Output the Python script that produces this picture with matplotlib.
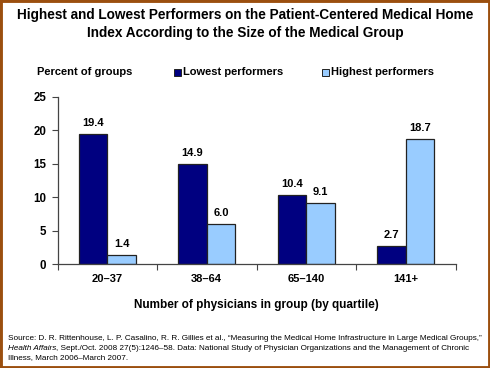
import numpy as np
import matplotlib
matplotlib.use("Agg")
import matplotlib.pyplot as plt
from matplotlib.patches import Rectangle

plt.rcParams['font.family'] = ['Liberation Sans', 'DejaVu Sans']

categories = ["20\u201337", "38\u201364", "65\u2013140", "141+"]
lowest = [19.4, 14.9, 10.4, 2.7]
highest = [1.4, 6.0, 9.1, 18.7]
yticks = [0, 5, 10, 15, 20, 25]

W, H = 490, 368
fig = plt.figure(figsize=(W / 100, H / 100), dpi=100)
fig.patch.set_facecolor("white")

# axes box in pixels: x 57.5..455.5, y(0)=264.3, y(25)=96.7
ax = fig.add_axes([57.5 / W, 1 - 264.3 / H, 398 / W, 167.6 / H])

x = np.arange(len(categories))
bw = 0.288
ax.bar(x - bw / 2, lowest, bw, color="#000080", edgecolor="#222222", linewidth=0.9)
ax.bar(x + bw / 2, highest, bw, color="#99CCFF", edgecolor="#222222", linewidth=0.9)

for i in range(len(categories)):
    ax.text(x[i] - bw / 2, lowest[i] + 0.9, f"{lowest[i]:.1f}", ha="center", va="bottom",
            fontsize=8, fontweight="bold")
    ax.text(x[i] + bw / 2, highest[i] + 0.9, f"{highest[i]:.1f}", ha="center", va="bottom",
            fontsize=8, fontweight="bold")

ax.set_xlim(-0.5, len(categories) - 0.5)
ax.set_ylim(0, 25)
ax.set_yticks(yticks)
ax.set_yticklabels([str(t) for t in yticks], fontsize=8.3, fontweight="bold")
ax.set_xticks(np.arange(-0.5, len(categories), 1.0))
ax.set_xticklabels([])
ax.set_xticks(x, minor=True)
ax.set_xticklabels(categories, minor=True, fontsize=8, fontweight="bold")
ax.tick_params(axis="x", which="minor", length=0, pad=7)
ax.tick_params(axis="x", which="major", length=4, width=0.8, direction="out", color="#444444")
ax.tick_params(axis="y", length=4, width=0.8, direction="out", color="#444444", pad=4)
for s in ["top", "right"]:
    ax.spines[s].set_visible(False)
for s in ["left", "bottom"]:
    ax.spines[s].set_color("#444444")
    ax.spines[s].set_linewidth(0.9)

fig.text(245 / W, 1 - 24 / H,
         "Highest and Lowest Performers on the Patient-Centered Medical Home\n"
         "Index According to the Size of the Medical Group",
         ha="center", va="center", fontsize=9.8, fontweight="bold", linespacing=1.35)

fig.text(37 / W, 1 - 72 / H, "Percent of groups", ha="left", va="center",
         fontsize=8, fontweight="bold")

# legend
fig.patches.append(Rectangle((174 / W, 1 - 76 / H), 7 / W, 7 / H, transform=fig.transFigure,
                             facecolor="#000080", edgecolor="#222222", linewidth=0.7))
fig.text(183 / W, 1 - 72 / H, "Lowest performers", ha="left", va="center",
         fontsize=8, fontweight="bold")
fig.patches.append(Rectangle((322 / W, 1 - 76 / H), 7 / W, 7 / H, transform=fig.transFigure,
                             facecolor="#99CCFF", edgecolor="#222222", linewidth=0.7))
fig.text(331 / W, 1 - 72 / H, "Highest performers", ha="left", va="center",
         fontsize=8, fontweight="bold")

fig.text(256 / W, 1 - 305 / H, "Number of physicians in group (by quartile)",
         ha="center", va="center", fontsize=8.5, fontweight="bold")

# source note, font size fitted so line 1 spans about x = 8..485 px
fs = 6.2
src1 = "Source: D. R. Rittenhouse, L. P. Casalino, R. R. Gillies et al., \u201cMeasuring the Medical Home Infrastructure in Large Medical Groups,\u201d"
src2 = ", Sept./Oct. 2008 27(5):1246\u201358. Data: National Study of Physician Organizations and the Management of Chronic"
src3 = "Illness, March 2006\u2013March 2007."
t0 = fig.text(8 / W, 1 - 338 / H, src1, ha="left", va="center", fontsize=fs)
fig.canvas.draw()
w0 = t0.get_window_extent().width
fs = fs * 476 / w0
t0.set_fontsize(fs)
t1 = fig.text(8 / W, 1 - 348 / H, "Health Affairs", ha="left", va="center", fontsize=fs, style="italic")
fig.canvas.draw()
bb = t1.get_window_extent()
fig.text(bb.x1 / W, 1 - 348 / H, src2, ha="left", va="center", fontsize=fs)
fig.text(8 / W, 1 - 358 / H, src3, ha="left", va="center", fontsize=fs)

# brown frame around the picture
fig.patches.append(Rectangle((0, 0), 1, 1, transform=fig.transFigure, fill=False,
                             edgecolor="#9B4F0F", linewidth=3.5))

fig.savefig("out.png", dpi=100, facecolor="white")
